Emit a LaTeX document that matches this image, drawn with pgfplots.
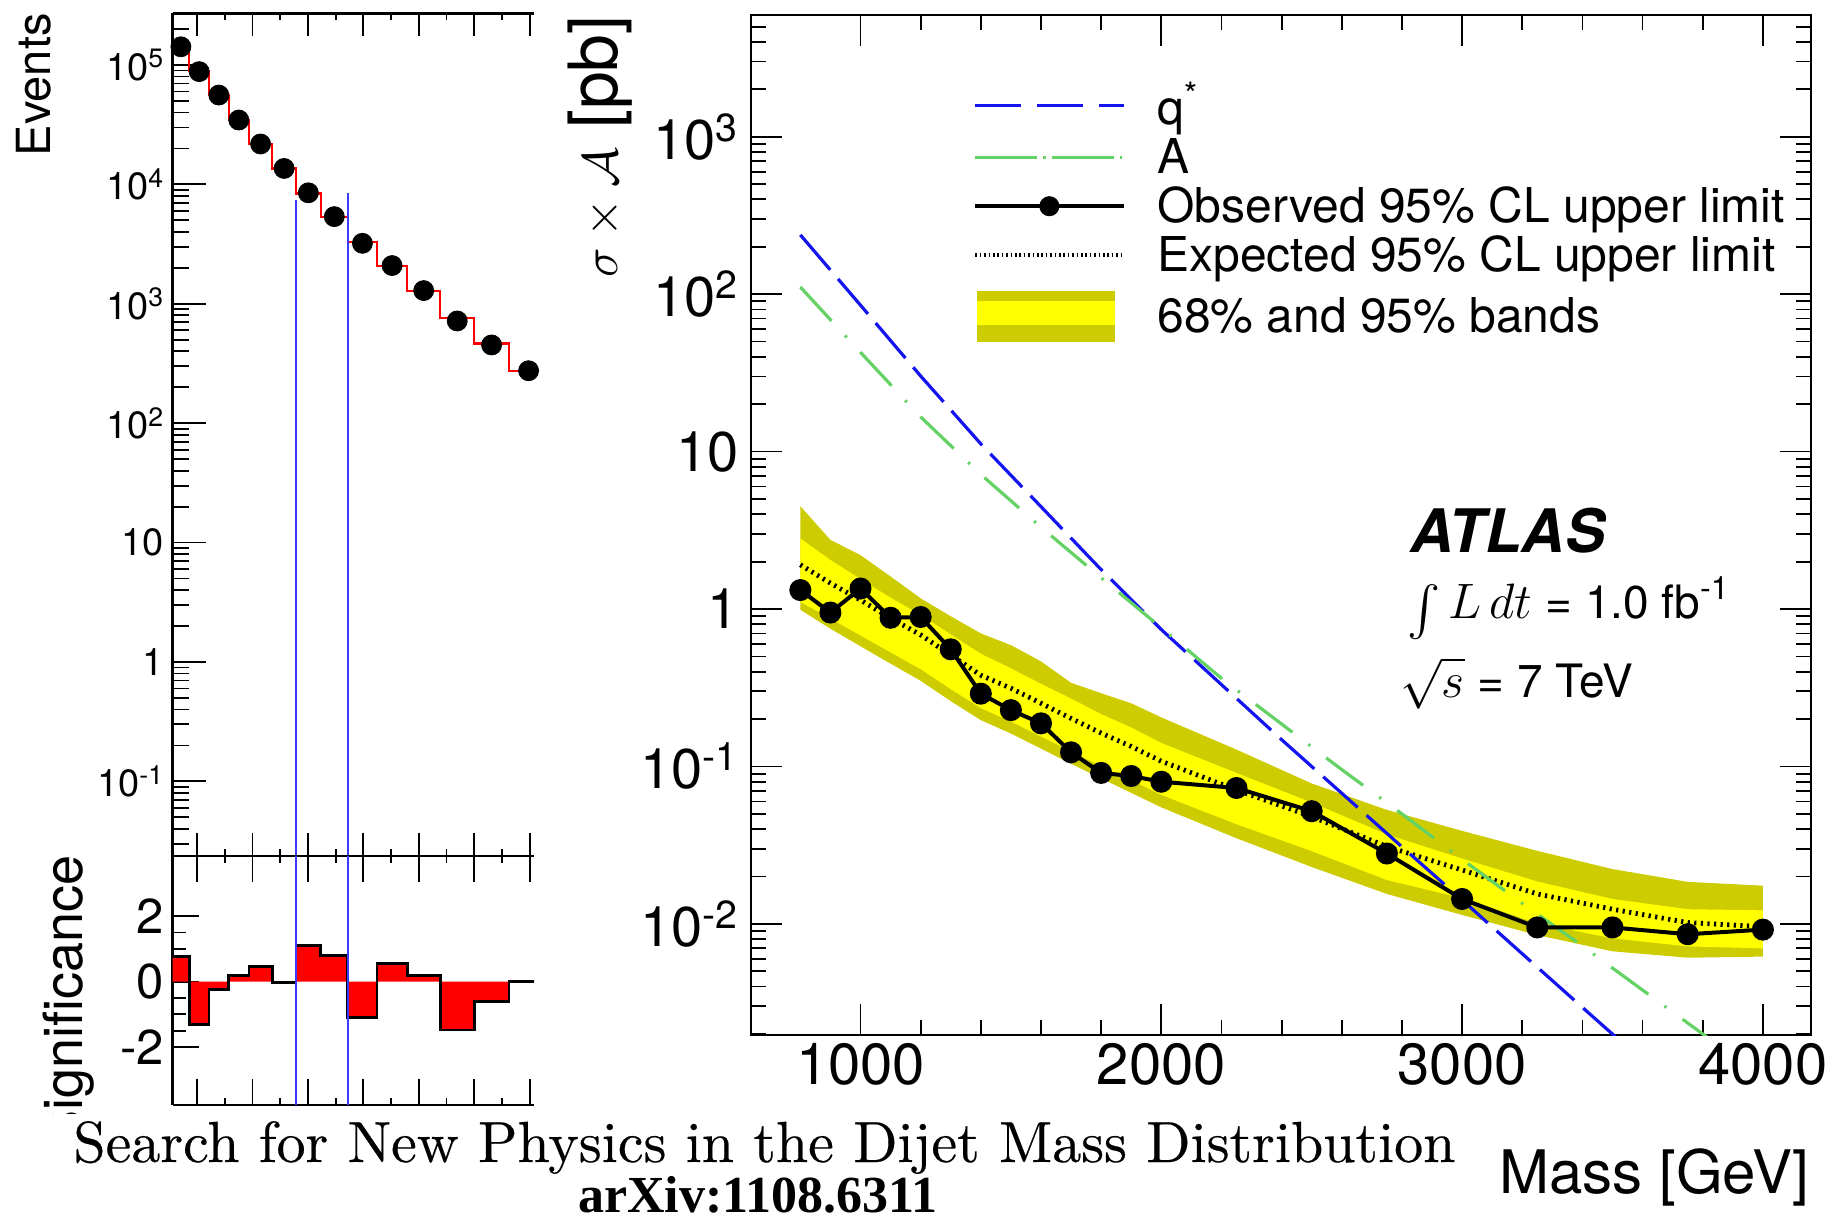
\documentclass[border=0pt]{standalone}
\usepackage{fontspec}
\usepackage{exscale}
\usepackage{graphicx}
\usepackage{pgfplots}
\pgfplotsset{compat=1.18}
\usepackage{pgfplotstable}
\usepgfplotslibrary{fillbetween}

\newfontfamily\helv{TeX Gyre Heros}
\newfontfamily\tnr{Liberation Serif}
\newfontfamily\capfont{lmroman10-regular.otf}[FakeBold=0.35]
\newcommand\fs[1]{\fontsize{#1pt}{#1pt}\selectfont}

\definecolor{bandouter}{RGB}{204,204,0}
\definecolor{bandinner}{RGB}{255,255,0}
\definecolor{qblue}{RGB}{20,20,240}
\definecolor{agreen}{RGB}{100,210,100}
\definecolor{vblue}{RGB}{60,60,255}

% dijet mass spectrum: bin centres [TeV] and events
\pgfplotstableread{
c n
0.7415 142000
0.8075 88000
0.8785 56000
0.9505 34600
1.029 21800
1.114 13600
1.2015 8500
1.295 5370
1.3965 3210
1.5035 2090
1.6175 1290
1.7385 718
1.8625 452
1.996 275
}\events

% background fit, one value per bin (left edges)
\pgfplotstableread{
e f
0.711 141700
0.772 88400
0.843 56060
0.914 34570
0.987 21730
1.071 13600
1.157 8400
1.246 5310
1.344 3270
1.449 2064
1.558 1284
1.677 758
1.800 465
1.925 275
2.067 275
}\fitsteps

% bin-by-bin significance (left edges)
\pgfplotstableread{
e s
0.711 0.76
0.772 -1.32
0.843 -0.25
0.914 0.18
0.987 0.46
1.071 -0.03
1.157 1.10
1.246 0.79
1.344 -1.09
1.449 0.56
1.558 0.18
1.677 -1.48
1.800 -0.61
1.925 0.0
2.067 0.0
}\signif

% observed 95% CL upper limit [pb]
\pgfplotstableread{
m obs
800 1.32
900 0.95
1000 1.35
1100 0.88
1200 0.89
1300 0.555
1400 0.29
1500 0.228
1600 0.188
1700 0.123
1800 0.091
1900 0.087
2000 0.080
2250 0.073
2500 0.052
2750 0.028
3000 0.0144
3250 0.0095
3500 0.0095
3750 0.0086
4000 0.0092
}\observed

% expected limit with 68% (lo1,hi1) and 95% (lo2,hi2) bands [pb]
\pgfplotstableread{
m exp lo1 hi1 lo2 hi2
800 1.91 1.11 2.81 0.99 4.5
900 1.46 0.87 2.05 0.75 2.75
1000 1.14 0.68 1.55 0.58 2.20
1100 0.875 0.53 1.18 0.45 1.61
1200 0.685 0.415 0.92 0.35 1.17
1300 0.51 0.31 0.69 0.26 0.90
1400 0.38 0.235 0.52 0.197 0.70
1500 0.314 0.193 0.42 0.162 0.59
1600 0.252 0.155 0.335 0.130 0.465
1700 0.202 0.125 0.27 0.104 0.34
1800 0.163 0.100 0.215 0.084 0.292
1900 0.134 0.082 0.177 0.068 0.252
2000 0.108 0.066 0.141 0.055 0.205
2250 0.071 0.043 0.091 0.035 0.128
2500 0.048 0.029 0.059 0.023 0.078
2750 0.031 0.019 0.037 0.0155 0.053
3000 0.022 0.0146 0.026 0.0114 0.039
3250 0.0155 0.0101 0.0186 0.0085 0.0291
3500 0.0124 0.0081 0.0144 0.0067 0.0223
3750 0.0102 0.0072 0.0124 0.0061 0.0185
4000 0.0096 0.0070 0.0122 0.0062 0.0175
}\band

% excited quark signal
\pgfplotstableread{
m xs
800 238
1000 85.1
1200 30.2
1400 11.2
1600 4.47
1800 1.78
2000 0.741
2200 0.331
2400 0.148
2600 0.0676
2800 0.0309
3000 0.0142
3200 0.00646
3400 0.00295
3600 0.00135
}\qstar

% axigluon signal
\pgfplotstableread{
m xs
800 111
1000 42.7
1200 16.6
1400 7.16
1600 3.31
1800 1.58
2000 0.76
2200 0.363
2400 0.186
2600 0.0955
2800 0.050
3000 0.0257
3200 0.0135
3400 0.00724
3600 0.0038
3800 0.0020
3900 0.00145
}\axigluon

\pgfplotsset{
  leftpanel/.style={
    scale only axis, width=180.75pt,
    xmin=0.7113, xmax=2.0155,
    axis x line*=box, axis y line*=left,
    xtick pos=both, ytick pos=left,
    axis line style={-, line width=1.3pt},
    tick align=inside,
    tick style={black, line width=0.9pt},
    xtick={1,2}, xticklabels={},
    minor xtick={0.9,1.1,1.3,1.5,1.7,1.9},
    extra x ticks={0.8,1.2,1.4,1.6,1.8}, extra x tick labels={},
    extra x tick style={/pgfplots/major tick length=6pt},
  },
  vline/.style={vblue, line width=0.9pt, forget plot},
  legline/.style={legend image code/.code={\draw[##1] (0pt,0pt) -- (74.5pt,0pt);}},
  legobs/.style={legend image code/.code={\draw[##1] (0pt,0pt) -- (74.5pt,0pt);
      \fill[black] (37pt,0pt) circle (4pt);}},
  legband/.style={legend image code/.code={%
      \path (1pt,15.5pt);
      \fill[bandouter] (1pt,-12.5pt) rectangle (69.5pt,12.5pt);
      \fill[bandinner] (1pt,-4pt) rectangle (69.5pt,7.5pt);}},
}

\begin{document}
\begin{tikzpicture}
\path (0,0) rectangle (915.5pt,-610.5pt);

% ---- event spectrum ----
\begin{axis}[leftpanel,
  at={(86.25pt,-6.65pt)}, anchor=north west, height=421.35pt,
  ymode=log, ymin=0.0237, ymax=2.71e5,
  major tick length=16.5pt, minor tick length=8pt,
  xtick style={/pgfplots/major tick length=11.5pt, /pgfplots/minor tick length=3.5pt},
  ytick={0.1,1,10,100,1000,10000,100000},
  yticklabels={10\textsuperscript{-1},1,10,10\textsuperscript{2},10\textsuperscript{3},10\textsuperscript{4},10\textsuperscript{5}},
  minor ytick={0.03,0.04,0.05,0.06,0.07,0.08,0.09,0.2,0.3,0.4,0.5,0.6,0.7,0.8,0.9,2,3,4,5,6,7,8,9,20,30,40,50,60,70,80,90,200,300,400,500,600,700,800,900,2000,3000,4000,5000,6000,7000,8000,9000,2e4,3e4,4e4,5e4,6e4,7e4,8e4,9e4,2e5},
  yticklabel style={font=\helv\fs{19}, inner sep=0pt, xshift=-4pt},
]
\addplot[const plot, red, line width=1.1pt, forget plot] table[x=e, y=f] {\fitsteps};
\addplot[vline] coordinates {(1.157,7400) (1.157,0.0237)};
\addplot[vline] coordinates {(1.344,8500) (1.344,0.0237)};
\addplot[only marks, mark=*, mark size=5pt, black, forget plot] table[x=c, y=n] {\events};
\end{axis}

% ---- significance ----
\begin{axis}[leftpanel,
  at={(86.25pt,-428pt)}, anchor=north west, height=124.5pt,
  ymin=-3.77, ymax=3.84,
  major tick length=13pt, minor tick length=6.5pt,
  xtick style={/pgfplots/major tick length=13pt, /pgfplots/minor tick length=3.5pt},
  ytick={-2,0,2}, yticklabels={-2,0,2}, minor y tick num=3,
  yticklabel style={font=\helv\fs{24.5}, inner sep=0pt, xshift=-4pt},
]
\addplot[ybar interval, fill=red, draw=none, forget plot] table[x=e, y=s] {\signif};
\addplot[const plot, black, line width=1.4pt, forget plot] table[x=e, y=s] {\signif};
\addplot[vline] coordinates {(1.157,-3.77) (1.157,3.84)};
\addplot[vline] coordinates {(1.344,-3.77) (1.344,3.84)};
\end{axis}

% ---- cross-section limits ----
\begin{axis}[
  at={(375.5pt,-7.5pt)}, anchor=north west,
  scale only axis, width=530pt, height=510pt,
  xmin=636, xmax=4160,
  ymode=log, ymin=1.97e-3, ymax=5.93e3,
  axis line style={line width=1.4pt},
  tick align=inside,
  tick style={black, line width=0.9pt},
  major tick length=15.5pt, minor tick length=7.5pt,
  xtick={1000,2000,3000,4000}, xticklabels={1000,2000,3000,4000},
  minor x tick num=4,
  ytick={0.01,0.1,1,10,100,1000},
  yticklabels={10\textsuperscript{-2},10\textsuperscript{-1},1,10,10\textsuperscript{2},10\textsuperscript{3}},
  minor ytick={0.002,0.003,0.004,0.005,0.006,0.007,0.008,0.009,0.02,0.03,0.04,0.05,0.06,0.07,0.08,0.09,0.2,0.3,0.4,0.5,0.6,0.7,0.8,0.9,2,3,4,5,6,7,8,9,20,30,40,50,60,70,80,90,200,300,400,500,600,700,800,900,2000,3000,4000,5000},
  xticklabel style={font=\helv\fs{29}, inner sep=0pt, yshift=-4pt},
  yticklabel style={font=\helv\fs{28}, inner sep=0pt, xshift=-6pt},
  legend cell align=left,
  legend style={at={(axis description cs:0.2094,0.9343)}, anchor=north west,
    draw=none, fill=none, inner sep=0pt, row sep=5.2pt, column sep=15.5pt,
    font=\helv\fs{24}, nodes={inner sep=0pt}},
]
\addplot[name path=hiO, draw=none, forget plot] table[x=m, y=hi2] {\band};
\addplot[name path=loO, draw=none, forget plot] table[x=m, y=lo2] {\band};
\addplot[name path=hiI, draw=none, forget plot] table[x=m, y=hi1] {\band};
\addplot[name path=loI, draw=none, forget plot] table[x=m, y=lo1] {\band};
\addplot[bandouter, forget plot] fill between[of=hiO and loO];
\addplot[bandinner, forget plot] fill between[of=hiI and loI];
\addplot[black, line width=2.4pt, dash pattern=on 1.1pt off 2.2pt, forget plot] table[x=m, y=exp] {\band};
\addplot[qblue, line width=1.6pt, dash pattern=on 23pt off 6pt, forget plot] table[x=m, y=xs] {\qstar};
\addplot[agreen, line width=1.6pt, dash pattern=on 23pt off 10pt on 1.2pt off 10pt, forget plot] table[x=m, y=xs] {\axigluon};
\addplot[black, line width=2pt, mark=*, mark size=4.5pt, forget plot] table[x=m, y=obs] {\observed};

\addlegendimage{legline, qblue, line width=1.6pt, dash pattern=on 23pt off 8pt}
\addlegendentry{q\textsuperscript{*}}
\addlegendimage{legline, agreen, line width=1.6pt, dash pattern=on 31pt off 3pt on 1.2pt off 3pt}
\addlegendentry{A}
\addlegendimage{legobs, black, line width=2pt}
\addlegendentry{Observed 95\% CL upper limit}
\addlegendimage{legline, black, line width=2pt, dash pattern=on 0.8pt off 1.4pt}
\addlegendentry{Expected 95\% CL upper limit}
\addlegendimage{legband}
\addlegendentry{68\% and 95\% bands}
\end{axis}

% ---- titles and annotations ----
\node[rotate=90, anchor=base east, inner sep=0pt, font=\helv\fs{23.5}] at (25pt,-6.5pt) {Events};
\begin{scope}
  \clip (0pt,-400pt) rectangle (80pt,-556.5pt);
  \node[rotate=90, anchor=base east, inner sep=0pt, font=\helv\fs{27}] at (41pt,-427.5pt) {Significance};
\end{scope}
\node[rotate=90, anchor=base east, inner sep=0pt, font=\helv\fs{34}] at (308.5pt,-7.5pt) {$\sigma\times\mathcal{A}$ [pb]};
\node[anchor=base east, inner sep=0pt, font=\helv\fs{30}] at (905pt,-596.5pt) {Mass [GeV]};

\node[anchor=base west, inner sep=0pt, font=\helv\bfseries\itshape\fs{30}] at (705pt,-276pt) {ATLAS};
\node[anchor=base west, inner sep=0pt, font=\helv\fs{23}] at (703.5pt,-309pt)
  {\smash{\raisebox{-0.15em}{$\int$}}\,$L\,dt$ = 1.0 fb\textsuperscript{-1}};
\node[anchor=base west, inner sep=0pt, font=\helv\fs{23}] at (700pt,-348.5pt) {$\sqrt{s}$ = 7 TeV};

\node[anchor=base west, inner sep=0pt, font=\capfont\fs{29}] at (36.5pt,-581pt)
  {Search for New Physics in the Dijet Mass Distribution};
\node[anchor=base, inner sep=0pt, font=\tnr\bfseries\fs{26}] at (379pt,-606pt) {arXiv:1108.6311};

\pgfresetboundingbox
\useasboundingbox (0,0) rectangle (915.5pt,-610.5pt);
\end{tikzpicture}
\end{document}
